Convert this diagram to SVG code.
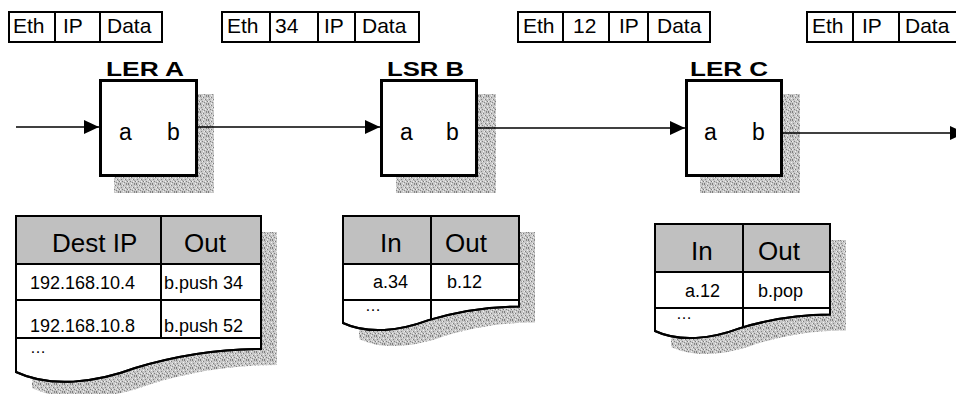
<svg xmlns="http://www.w3.org/2000/svg" xmlns:xlink="http://www.w3.org/1999/xlink" width="956" height="394" viewBox="0 0 956 394">
  <style>
    text { font-family: "Liberation Sans", Arial, sans-serif; fill: #000; }
    .pkt { fill: #fff; stroke: #000; stroke-width: 2; }
    .sep { stroke: #000; stroke-width: 2; fill: none; }
    .ptxt { font-size: 21px; }
    .router { fill: #fff; stroke: #000; stroke-width: 3; }
    .shadow { fill: url(#stipple); stroke: none; }
    .title { font-size: 21px; font-weight: bold; text-anchor: middle; }
    .port { font-size: 23px; }
    .tbl { fill: #fff; stroke: #000; stroke-width: 2; }
    .head { fill: #c0c0c0; stroke: none; }
    .htxt { font-size: 26px; }
    .rtxt { font-size: 18px; }
    .etxt { font-size: 16px; }
    .link { stroke: #000; stroke-width: 1.6; fill: none; marker-end: url(#arrow); }
  </style>
  <defs>
    <!-- grainy gray fill used for drop shadows -->
    <pattern id="stipple" width="8" height="8" patternUnits="userSpaceOnUse">
      <rect width="8" height="8" fill="#c8c8c8"/>
      <rect x="0" y="0" width="1" height="1" fill="#7c7c7c"/>
      <rect x="3" y="1" width="1" height="1" fill="#7c7c7c"/>
      <rect x="6" y="0" width="1" height="1" fill="#8a8a8a"/>
      <rect x="1" y="3" width="1" height="1" fill="#858585"/>
      <rect x="5" y="3" width="1" height="1" fill="#7c7c7c"/>
      <rect x="2" y="5" width="1" height="1" fill="#808080"/>
      <rect x="7" y="5" width="1" height="1" fill="#7c7c7c"/>
      <rect x="4" y="6" width="1" height="1" fill="#8a8a8a"/>
      <rect x="0" y="7" width="1" height="1" fill="#7c7c7c"/>
      <rect x="6" y="7" width="1" height="1" fill="#858585"/>
      <rect x="2" y="1" width="1" height="1" fill="#eeeeee"/>
      <rect x="7" y="2" width="1" height="1" fill="#f0f0f0"/>
      <rect x="4" y="3" width="1" height="1" fill="#eeeeee"/>
      <rect x="0" y="5" width="1" height="1" fill="#f0f0f0"/>
      <rect x="5" y="5" width="1" height="1" fill="#eeeeee"/>
      <rect x="3" y="7" width="1" height="1" fill="#f0f0f0"/>
      <rect x="1" y="1" width="1" height="1" fill="#a8a8a8"/>
      <rect x="6" y="4" width="1" height="1" fill="#a0a0a0"/>
      <rect x="3" y="4" width="1" height="1" fill="#dcdcdc"/>
    </pattern>
    <marker id="arrow" markerUnits="userSpaceOnUse" markerWidth="16" markerHeight="14" refX="15" refY="7" orient="auto">
      <path d="M0,0 L15,7 L0,14 Z" fill="#000"/>
    </marker>
    <!-- outlines of the forwarding tables (document shape) -->
    <path id="tblA-shape" d="M16,216 H261 V349 C215,349 175,356 135,368 C95,383 50,388 16,372 Z"/>
    <path id="tblB-shape" d="M343,216 H519 V306.5 C486,306.5 457.2,311.5 428.5,320.1 C399.8,330.9 367.5,334.5 343,323 Z"/>
    <path id="tblC-shape" d="M655,224 H830 V314.6 C797.1,314.6 768.6,319.6 740,328.1 C711.5,338.9 679.3,342.4 655,331 Z"/>
  </defs>

  <rect width="956" height="394" fill="#fff"/>

  <!-- packet headers on each hop -->
  <g id="packet-1">
    <rect class="pkt" x="9" y="12" width="153" height="30"/>
    <path class="sep" d="M55,12 V42 M100,12 V42"/>
    <text class="ptxt" x="13" y="33">Eth</text>
    <text class="ptxt" x="63" y="33">IP</text>
    <text class="ptxt" x="107" y="33">Data</text>
  </g>
  <g id="packet-2">
    <rect class="pkt" x="222" y="12" width="197" height="30"/>
    <path class="sep" d="M270,12 V42 M318,12 V42 M355,12 V42"/>
    <text class="ptxt" x="227" y="33">Eth</text>
    <text class="ptxt" x="275" y="33">34</text>
    <text class="ptxt" x="324" y="33">IP</text>
    <text class="ptxt" x="362" y="33">Data</text>
  </g>
  <g id="packet-3">
    <rect class="pkt" x="518" y="12" width="192" height="30"/>
    <path class="sep" d="M563,12 V42 M609,12 V42 M648,12 V42"/>
    <text class="ptxt" x="523" y="33">Eth</text>
    <text class="ptxt" x="573" y="33">12</text>
    <text class="ptxt" x="619" y="33">IP</text>
    <text class="ptxt" x="657" y="33">Data</text>
  </g>
  <g id="packet-4">
    <rect class="pkt" x="807" y="12" width="154" height="30"/>
    <path class="sep" d="M853,12 V42 M899,12 V42"/>
    <text class="ptxt" x="812" y="33">Eth</text>
    <text class="ptxt" x="862" y="33">IP</text>
    <text class="ptxt" x="905" y="33">Data</text>
  </g>

  <!-- routers -->
  <g id="ler-a">
    <rect class="shadow" x="114" y="94" width="100" height="99"/>
    <rect class="router" x="100.5" y="80.5" width="96" height="95"/>
    <text class="title" x="145" y="76" textLength="78" lengthAdjust="spacingAndGlyphs">LER A</text>
    <text class="port" x="119" y="140">a</text>
    <text class="port" x="167" y="140">b</text>
  </g>
  <g id="lsr-b">
    <rect class="shadow" x="396" y="94" width="100" height="99"/>
    <rect class="router" x="381.5" y="80.5" width="95" height="95"/>
    <text class="title" x="425.5" y="76" textLength="77" lengthAdjust="spacingAndGlyphs">LSR B</text>
    <text class="port" x="400" y="140">a</text>
    <text class="port" x="446" y="140">b</text>
  </g>
  <g id="ler-c">
    <rect class="shadow" x="700" y="94" width="100" height="99"/>
    <rect class="router" x="686.5" y="80.5" width="95" height="95"/>
    <text class="title" x="729" y="76" textLength="78" lengthAdjust="spacingAndGlyphs">LER C</text>
    <text class="port" x="704" y="140">a</text>
    <text class="port" x="752" y="140">b</text>
  </g>

  <!-- forwarding tables -->
  <g id="table-a">
    <use xlink:href="#tblA-shape" class="shadow" transform="translate(16,16)"/>
    <use xlink:href="#tblA-shape" class="tbl"/>
    <rect class="head" x="17" y="217" width="243" height="47"/>
    <path class="sep" d="M16,264 H261 M16,300 H261 M16,338 H261 M161,216 V338"/>
    <use xlink:href="#tblA-shape" fill="none" stroke="#000" stroke-width="2"/>
    <text class="htxt" x="52" y="252">Dest IP</text>
    <text class="htxt" x="184" y="252">Out</text>
    <text class="rtxt" x="30" y="289">192.168.10.4</text>
    <text class="rtxt" x="164" y="289">b.push 34</text>
    <text class="rtxt" x="30" y="332">192.168.10.8</text>
    <text class="rtxt" x="164" y="332">b.push 52</text>
    <text class="etxt" x="30" y="353">…</text>
  </g>
  <g id="table-b">
    <use xlink:href="#tblB-shape" class="shadow" transform="translate(16,16)"/>
    <use xlink:href="#tblB-shape" class="tbl"/>
    <rect class="head" x="344" y="217" width="174" height="47"/>
    <path class="sep" d="M343,264 H519 M343,300 H519 M431,216 V320"/>
    <use xlink:href="#tblB-shape" fill="none" stroke="#000" stroke-width="2"/>
    <text class="htxt" x="380" y="252">In</text>
    <text class="htxt" x="445" y="252">Out</text>
    <text class="rtxt" x="373" y="288">a.34</text>
    <text class="rtxt" x="447" y="288">b.12</text>
    <text class="etxt" x="365" y="311">…</text>
  </g>
  <g id="table-c">
    <use xlink:href="#tblC-shape" class="shadow" transform="translate(16,16)"/>
    <use xlink:href="#tblC-shape" class="tbl"/>
    <rect class="head" x="656" y="225" width="173" height="47"/>
    <path class="sep" d="M655,272 H830 M655,308 H830 M743,224 V328"/>
    <use xlink:href="#tblC-shape" fill="none" stroke="#000" stroke-width="2"/>
    <text class="htxt" x="691" y="260">In</text>
    <text class="htxt" x="758" y="260">Out</text>
    <text class="rtxt" x="685" y="297">a.12</text>
    <text class="rtxt" x="758" y="297">b.pop</text>
    <text class="etxt" x="676" y="319">…</text>
  </g>

  <!-- links between routers -->
  <g id="connectors">
    <path class="link" d="M16,127 H99"/>
    <path class="link" d="M198,127 H380"/>
    <path class="link" d="M478,128 H685"/>
    <path class="link" d="M783,133 H965"/>
  </g>
</svg>
